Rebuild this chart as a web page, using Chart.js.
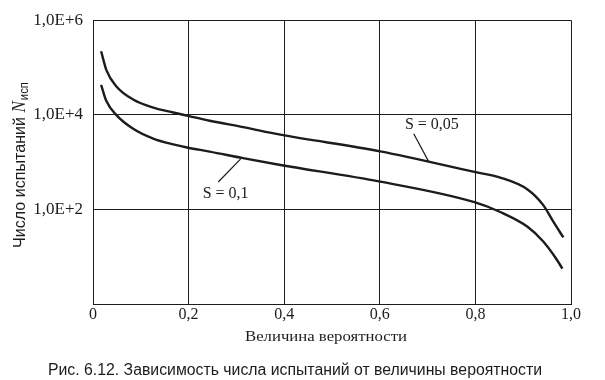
<!DOCTYPE html>
<html>
<head>
<meta charset="utf-8">
<script src="https://cdn.jsdelivr.net/npm/chart.js@4.4.1/dist/chart.umd.min.js"></script>
<style>
html, body { margin: 0; padding: 0; background: #fff; }
#wrap { width: 605px; height: 380px; }
</style>
</head>
<body>
<div id="wrap"><canvas id="chart" width="605" height="380"></canvas></div>
<script>
// values
var probS005 = [0.017, 0.028, 0.049, 0.084, 0.126, 0.168, 0.199, 0.244, 0.314, 0.392, 0.601, 0.798, 0.852, 0.909, 0.942, 0.963, 0.984];
var trialsS005 = [221000, 88000, 39800, 21100, 14200, 11200, 9500, 7500, 5500, 3800, 1690, 620, 470, 264, 123, 55, 25.5];
var probS01 = [0.017, 0.028, 0.049, 0.084, 0.126, 0.168, 0.199, 0.244, 0.314, 0.392, 0.601, 0.798, 0.852, 0.909, 0.942, 0.968, 0.982];
var trialsS01 = [43100, 19500, 9850, 5060, 3140, 2360, 2010, 1670, 1210, 870, 386, 142, 88, 43, 21, 9.4, 5.6];

var xTickValues = [0, 0.2, 0.4, 0.6, 0.8, 1.0];
var xTickLabels = ['0', '0,2', '0,4', '0,6', '0,8', '1,0'];
var yTickValues = [1, 100, 10000, 1000000];
var yTickLabels = ['', '1,0E+2', '1,0E+4', '1,0E+6'];

var xTitle = 'Величина вероятности';
var yTitle = ['Число испытаний ', 'N', 'исп'];
var caption = 'Рис. 6.12. Зависимость числа испытаний от величины вероятности';

// curve labels with leader lines, in data coordinates
var curveNotes = [
    { text: 'S = 0,05', at: [0.709, 6270], from: [0.671, 3980], to: [0.702, 1035] },
    { text: 'S = 0,1', at: [0.2775, 218], from: [0.262, 380], to: [0.309, 1170] }
];

var INK = '#1c1c1c';

function points(xs, ys) {
    var out = [];
    for (var i = 0; i < xs.length; i++) out.push({ x: xs[i], y: ys[i] });
    return out;
}

function fitText(ctx, text, x, y, width) {
    var k = width / ctx.measureText(text).width;
    ctx.save();
    ctx.translate(x, y);
    ctx.scale(k, 1);
    ctx.textAlign = 'left';
    ctx.fillText(text, 0, 0);
    ctx.restore();
}

var paperPlugin = {
    id: 'paper',
    beforeDraw: function (chart) {
        var ctx = chart.ctx;
        ctx.save();
        ctx.fillStyle = '#fff';
        ctx.fillRect(0, 0, chart.width, chart.height);
        ctx.restore();
    },
    afterDraw: function (chart) {
        var ctx = chart.ctx;
        var xs = chart.scales.x, ys = chart.scales.y;
        ctx.save();
        ctx.fillStyle = INK;
        ctx.strokeStyle = INK;

        // curve labels
        ctx.font = '16px "Liberation Serif"';
        ctx.textAlign = 'center';
        ctx.textBaseline = 'middle';
        ctx.lineWidth = 1.2;
        curveNotes.forEach(function (n) {
            ctx.fillText(n.text, xs.getPixelForValue(n.at[0]), ys.getPixelForValue(n.at[1]));
            ctx.beginPath();
            ctx.moveTo(xs.getPixelForValue(n.from[0]), ys.getPixelForValue(n.from[1]));
            ctx.lineTo(xs.getPixelForValue(n.to[0]), ys.getPixelForValue(n.to[1]));
            ctx.stroke();
        });

        // x axis title
        ctx.textBaseline = 'alphabetic';
        ctx.font = '15px "Liberation Serif"';
        fitText(ctx, xTitle, 245, 341, 162);

        // caption
        ctx.font = '16px "Liberation Sans"';
        fitText(ctx, caption, 48, 375, 494);

        // y axis title, rotated, with italic N and subscript
        var fMain = '17px "Liberation Sans"', fN = 'italic 18px "Liberation Serif"', fSub = '12px "Liberation Sans"';
        ctx.font = fMain; var w0 = ctx.measureText(yTitle[0]).width;
        ctx.font = fN; var w1 = ctx.measureText(yTitle[1]).width + 1;
        ctx.font = fSub; var w2 = ctx.measureText(yTitle[2]).width;
        var k = 166 / (w0 + w1 + w2);
        ctx.translate(25, 248);
        ctx.rotate(-Math.PI / 2);
        ctx.scale(k, 1);
        ctx.textAlign = 'left';
        ctx.font = fMain; ctx.fillText(yTitle[0], 0, 0);
        ctx.font = fN; ctx.fillText(yTitle[1], w0, 0);
        ctx.font = fSub; ctx.fillText(yTitle[2], w0 + w1, 3);
        ctx.restore();
    }
};

var lineStyle = {
    borderColor: INK,
    borderWidth: 2.4,
    pointRadius: 0,
    fill: false,
    cubicInterpolationMode: 'monotone'
};

var chart = new Chart(document.getElementById('chart'), {
    type: 'line',
    data: {
        datasets: [
            Object.assign({ label: 'S = 0,05', data: points(probS005, trialsS005) }, lineStyle),
            Object.assign({ label: 'S = 0,1', data: points(probS01, trialsS01) }, lineStyle)
        ]
    },
    options: {
        responsive: false,
        animation: false,
        devicePixelRatio: 1,
        layout: { padding: { left: 0, right: 34, top: 14, bottom: 0 } },
        plugins: { legend: { display: false }, tooltip: { enabled: false } },
        scales: {
            x: {
                type: 'linear',
                min: 0,
                max: 1,
                afterBuildTicks: function (s) {
                    s.ticks = xTickValues.map(function (v) { return { value: v }; });
                },
                afterFit: function (s) { s.height = 76; },
                ticks: {
                    autoSkip: false,
                    maxRotation: 0,
                    padding: 1,
                    color: INK,
                    font: { family: '"Liberation Serif"', size: 16 },
                    callback: function (v, i) { return xTickLabels[i]; }
                },
                grid: { color: INK, lineWidth: 1, drawTicks: false },
                border: { color: INK, width: 1 }
            },
            y: {
                type: 'logarithmic',
                min: 1,
                max: 1000000,
                afterBuildTicks: function (s) {
                    s.ticks = yTickValues.map(function (v) { return { value: v }; });
                },
                afterFit: function (s) { s.width = 93; },
                ticks: {
                    padding: 10,
                    color: INK,
                    font: { family: '"Liberation Serif"', size: 17 },
                    callback: function (v, i) { return yTickLabels[i]; }
                },
                grid: { color: INK, lineWidth: 1, drawTicks: false },
                border: { color: INK, width: 1 }
            }
        }
    },
    plugins: [paperPlugin]
});
</script>
</body>
</html>
